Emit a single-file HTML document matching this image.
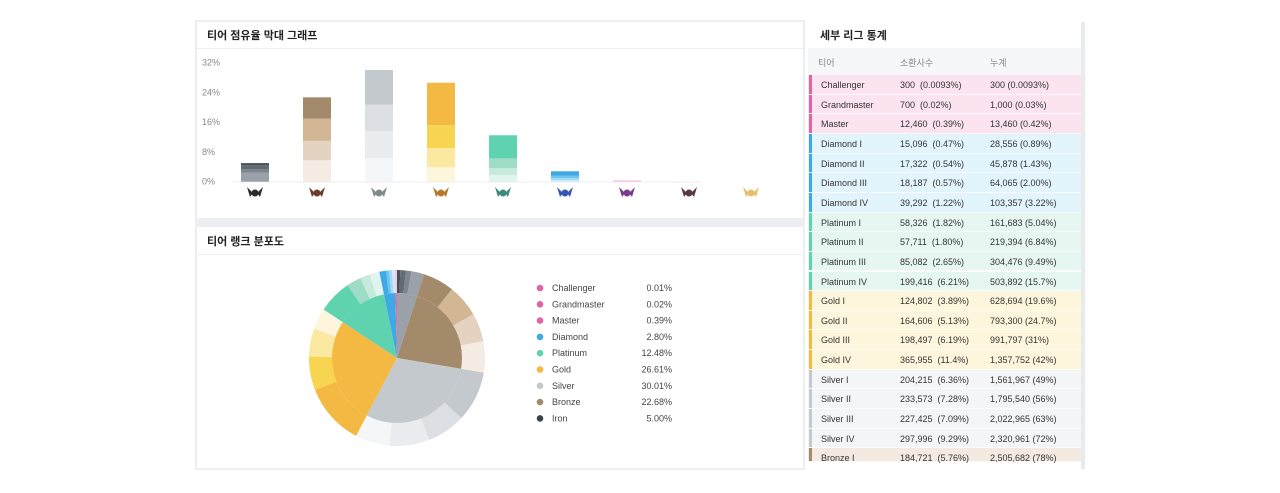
<!DOCTYPE html>
<html><head><meta charset="utf-8"><style>
body{margin:0;width:1280px;height:493px;background:#fff;font-family:"Liberation Sans","Noto Sans CJK KR",sans-serif;position:relative;overflow:hidden}
.abs{position:absolute}
.card{position:absolute;background:#fff;}
.title{position:absolute;font-size:11px;font-weight:bold;color:#222}
.tr{position:absolute;left:808px;width:273px;height:19.6px;font-size:9px;color:#333;border-bottom:1px solid rgba(255,255,255,.7);box-sizing:border-box}
.tr span{position:absolute;top:5px}
</style></head><body>
<div class="abs" style="left:195px;top:20px;width:610px;height:450px;background:#eceef1"></div>
<div class="card" style="left:197px;top:22px;width:606px;height:196px">
<div class="title" style="left:10px;top:5px">티어 점유율 막대 그래프</div>
<div class="abs" style="left:0;top:26px;width:606px;height:1px;background:#eef0f2"></div>
</div>
<div class="card" style="left:197px;top:227px;width:606px;height:241px">
<div class="title" style="left:10px;top:6px">티어 랭크 분포도</div>
<div class="abs" style="left:0;top:27px;width:606px;height:1px;background:#eef0f2"></div>
</div>
<svg id="bar" class="abs" style="left:0;top:0" width="805" height="220"></svg>
<svg id="pie" class="abs" style="left:0;top:0" width="805" height="493"></svg>
<div class="abs" style="left:808px;top:22px;width:274px;height:447px;background:#fff"></div>
<div class="abs" style="left:1081px;top:22px;width:4px;height:447px;background:#e8eaed"></div>
<div class="title" style="left:820px;top:27px">세부 리그 통계</div>
<div class="abs" style="left:808px;top:48px;width:273px;height:27px;background:#f6f7f9;font-size:9px;color:#888">
<span class="abs" style="left:10px;top:8px">티어</span><span class="abs" style="left:92px;top:8px">소환사수</span><span class="abs" style="left:182px;top:8px">누계</span></div>
<div id="tbl"></div>
<script>
const tiers=["Iron","Bronze","Silver","Gold","Platinum","Diamond","Master","Grandmaster","Challenger"];
const divI=[2.4,5.76,6.36,3.89,1.82,0.47,0.39,0.02,0.01];
const divII=[1.0,5.2,7.28,5.13,1.80,0.54,0,0,0];
const divIII=[1.0,6.0,7.09,6.19,2.65,0.57,0,0,0];
const divIV=[0.6,5.72,9.29,11.4,6.21,1.22,0,0,0];
const yTicks=[0,8,16,24,32];
const legendNames=["Challenger","Grandmaster","Master","Diamond","Platinum","Gold","Silver","Bronze","Iron"];
const legendVals=[0.01,0.02,0.39,2.80,12.48,26.61,30.01,22.68,5.00];
const pal={Iron:["#9aa1a8","#7d858d","#626b73","#474f57"],Bronze:["#f4ece2","#e3d3c0","#d3b795","#a38a6b"],Silver:["#f5f6f8","#ebecef","#dcdfe3","#c4c9ce"],Gold:["#fdf5dc","#fbe9a2","#f8d550","#f4b942"],Platinum:["#e0f5ee","#c6ebdd","#9fdcc5","#5fd3b0"],Diamond:["#c8ecfb","#9ed9f6","#6cc4ef","#3fa9e5"],Master:["#f5c6de","#f5c6de","#f5c6de","#e065a8"],Grandmaster:["#f5c6de","#f5c6de","#f5c6de","#e065a8"],Challenger:["#f5c6de","#f5c6de","#f5c6de","#e065a8"]};
const main={Challenger:"#e065a8",Grandmaster:"#e065a8",Master:"#e065a8",Diamond:"#3fa9e5",Platinum:"#5fd3b0",Gold:"#f4b942",Silver:"#c4c9ce",Bronze:"#a38a6b",Iron:"#3a424a"};
const NS="http://www.w3.org/2000/svg";
function mk(p,t,a){const e=document.createElementNS(NS,t);for(const k in a)e.setAttribute(k,a[k]);p.appendChild(e);return e;}
const bar=document.getElementById('bar');
const y=v=>181.7-v*3.72, x=i=>255+i*62;
yTicks.forEach(t=>{const e=mk(bar,'text',{x:202,y:y(t)+3,'font-size':9,fill:'#888'});e.textContent=t+'%';

});
mk(bar,'line',{x1:232,x2:700,y1:182,y2:182,stroke:'#eceef0'});
const embl=["#2b2b2b","#6b3d2a","#7e8a8c","#b57a2a","#3f8a80","#3653b8","#7a3b8c","#5b3740","#e6c06a"];
tiers.forEach((tn,i)=>{let acc=0;[divI,divII,divIII,divIV].forEach((arr,j)=>{const v=arr[i];if(v<=0)return;
const r=mk(bar,'rect',{x:x(i)-14,y:y(acc+v),width:28,height:v*3.72,fill:pal[tn][j]});

acc+=v;});
const g=mk(bar,'g',{});


mk(g,'path',{d:`M${x(i)-8},${187} L${x(i)-2},${193} L${x(i)-5},${197} Z M${x(i)+8},${187} L${x(i)+2},${193} L${x(i)+5},${197} Z`,fill:embl[i]});
mk(g,'circle',{cx:x(i),cy:193,r:3.5,fill:embl[i]});});
const pie=document.getElementById('pie');
const cx=397,cy=358,R=88,ri=65;
const order=["Iron","Bronze","Silver","Gold","Platinum","Diamond","Master","Grandmaster","Challenger"];
const tot=order.map((t,i)=>divI[i]+divII[i]+divIII[i]+divIV[i]);
const sum=tot.reduce((a,b)=>a+b,0);
function arc(a0,a1,r0,r1){const p=(a,r)=>[cx+r*Math.sin(a),cy-r*Math.cos(a)];const l=a1-a0>Math.PI?1:0;
const [x0,y0]=p(a0,r1),[x1,y1]=p(a1,r1);
if(r0===0)return `M${cx},${cy}L${x0},${y0}A${r1},${r1} 0 ${l} 1 ${x1},${y1}Z`;
const [x2,y2]=p(a1,r0),[x3,y3]=p(a0,r0);return `M${x0},${y0}A${r1},${r1} 0 ${l} 1 ${x1},${y1}L${x2},${y2}A${r0},${r0} 0 ${l} 0 ${x3},${y3}Z`;}
let a=0;
order.forEach((tn,i)=>{const span=tot[i]/sum*2*Math.PI;
let b=a;[divIV,divIII,divII,divI].forEach((arr,k)=>{const v=arr[i];if(v<=0)return;const s=v/sum*2*Math.PI;
const pth=mk(pie,'path',{d:arc(b,b+s,ri,R),fill:pal[tn][3-k]});

b+=s;});
const inn=mk(pie,'path',{d:arc(a,a+span,0,ri),fill:tn==="Iron"?"#9aa1a8":main[tn]});


a+=span;});
legendNames.forEach((n,i)=>{const yy=288+i*16.3;const g=mk(pie,'g',{});


mk(g,'circle',{cx:540,cy:yy,r:3.3,fill:main[n]});
const t=mk(g,'text',{x:552,y:yy+3,'font-size':9,fill:'#444'});t.textContent=n;
const v=mk(g,'text',{x:672,y:yy+3,'font-size':9,fill:'#444','text-anchor':'end'});v.textContent=legendVals[i].toFixed(2)+'%';});
const rows=[["Challenger","300  (0.0093%)","300 (0.0093%)","p"],["Grandmaster","700  (0.02%)","1,000 (0.03%)","p"],["Master","12,460  (0.39%)","13,460 (0.42%)","p"],
["Diamond I","15,096  (0.47%)","28,556 (0.89%)","d"],["Diamond II","17,322  (0.54%)","45,878 (1.43%)","d"],["Diamond III","18,187  (0.57%)","64,065 (2.00%)","d"],["Diamond IV","39,292  (1.22%)","103,357 (3.22%)","d"],
["Platinum I","58,326  (1.82%)","161,683 (5.04%)","g"],["Platinum II","57,711  (1.80%)","219,394 (6.84%)","g"],["Platinum III","85,082  (2.65%)","304,476 (9.49%)","g"],["Platinum IV","199,416  (6.21%)","503,892 (15.7%)","g"],
["Gold I","124,802  (3.89%)","628,694 (19.6%)","y"],["Gold II","164,606  (5.13%)","793,300 (24.7%)","y"],["Gold III","198,497  (6.19%)","991,797 (31%)","y"],["Gold IV","365,955  (11.4%)","1,357,752 (42%)","y"],
["Silver I","204,215  (6.36%)","1,561,967 (49%)","s"],["Silver II","233,573  (7.28%)","1,795,540 (56%)","s"],["Silver III","227,425  (7.09%)","2,022,965 (63%)","s"],["Silver IV","297,996  (9.29%)","2,320,961 (72%)","s"],
["Bronze I","184,721  (5.76%)","2,505,682 (78%)","b"]];
const bg={p:"#fbe3f0",d:"#e3f5fc",g:"#e6f7f1",y:"#fef6dc",s:"#f4f5f7",b:"#f3ebe1"};
const bc={p:"#e065a8",d:"#3fa9e5",g:"#5fd3b0",y:"#f4b942",s:"#c4c9ce",b:"#a38a6b"};
const tb=document.getElementById('tbl');
rows.forEach((r,i)=>{const d=document.createElement('div');d.className='tr';


d.style.top=(75+i*19.65)+'px';d.style.height=(i==19?14:19.65)+'px';d.style.background=bg[r[3]];
d.innerHTML=`<div style="position:absolute;left:1px;top:0;width:3px;height:100%;background:${bc[r[3]]}"></div><span style="left:13px">${r[0]}</span><span style="left:92px;white-space:pre">${r[1]}</span><span style="left:182px">${r[2]}</span>`;
tb.appendChild(d);});
</script>
</body></html>
